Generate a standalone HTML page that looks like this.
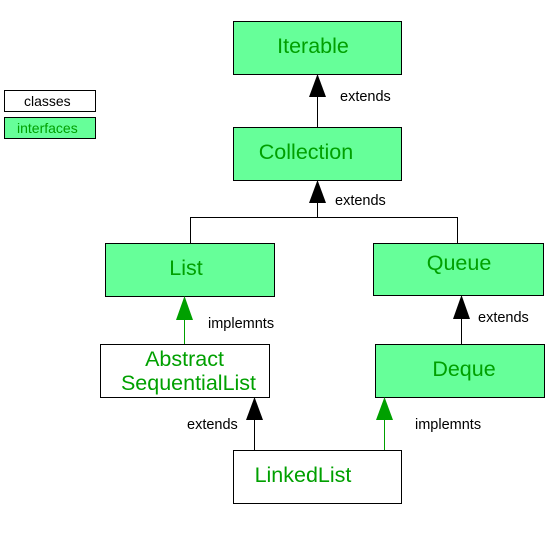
<!DOCTYPE html>
<html><head><meta charset="utf-8"><style>
body{margin:0;background:#fff;}
svg{display:block;}
text{font-family:"Liberation Sans",sans-serif;}
</style></head><body>
<svg width="553" height="535" viewBox="0 0 553 535" xmlns="http://www.w3.org/2000/svg">
<g stroke="#000" stroke-width="1">
<rect x="233.5" y="21.5" width="168" height="53" fill="#66ff99"/>
<rect x="233.5" y="127.5" width="168" height="53" fill="#66ff99"/>
<rect x="105.5" y="243.5" width="169" height="53" fill="#66ff99"/>
<rect x="373.5" y="243.5" width="170" height="52" fill="#66ff99"/>
<rect x="100.5" y="344.5" width="169" height="53" fill="#fff"/>
<rect x="375.5" y="344.5" width="169" height="53" fill="#66ff99"/>
<rect x="233.5" y="450.5" width="168" height="53" fill="#fff"/>
<rect x="4.5" y="90.5" width="91" height="21" fill="#fff"/>
<rect x="4.5" y="117.5" width="91" height="21" fill="#66ff99"/>
<line x1="317.5" y1="127" x2="317.5" y2="95"/>
<polyline fill="none" points="190.5,243 190.5,217.5 457.5,217.5 457.5,243"/>
<line x1="317.5" y1="217" x2="317.5" y2="200"/>
<line x1="461.5" y1="344" x2="461.5" y2="318"/>
<line x1="254.5" y1="450" x2="254.5" y2="419"/>
</g>
<g stroke="#00a000"><line x1="184.5" y1="344" x2="184.5" y2="318"/><line x1="384.5" y1="450" x2="384.5" y2="419"/></g>
<polygon points="317.5,74 309,97 326,97" fill="#000"/>
<polygon points="317.5,180 309,203 326,203" fill="#000"/>
<polygon points="461.5,295 453,319 470,319" fill="#000"/>
<polygon points="254.5,397 246,420 263,420" fill="#000"/>
<polygon points="184.5,296 176,320 193,320" fill="#00a000"/>
<polygon points="384.5,397 376,420 393,420" fill="#00a000"/>
<g fill="#00a000" font-size="21.5" text-anchor="middle">
<text x="313" y="53">Iterable</text>
<text x="306" y="159">Collection</text>
<text x="186" y="275">List</text>
<text x="459" y="270">Queue</text>
<text x="184.5" y="366">Abstract</text>
<text x="188.5" y="390">SequentialList</text>
<text x="464" y="376">Deque</text>
<text x="303" y="482">LinkedList</text>
</g>
<text x="24" y="106" font-size="14" fill="#000">classes</text>
<text x="17" y="133" font-size="14" fill="#00a000">interfaces</text>
<g font-size="14.5" fill="#000">
<text x="340" y="101">extends</text>
<text x="335" y="205">extends</text>
<text x="208" y="328">implemnts</text>
<text x="478" y="322">extends</text>
<text x="187" y="429">extends</text>
<text x="415" y="429">implemnts</text>
</g>
</svg>
</body></html>
